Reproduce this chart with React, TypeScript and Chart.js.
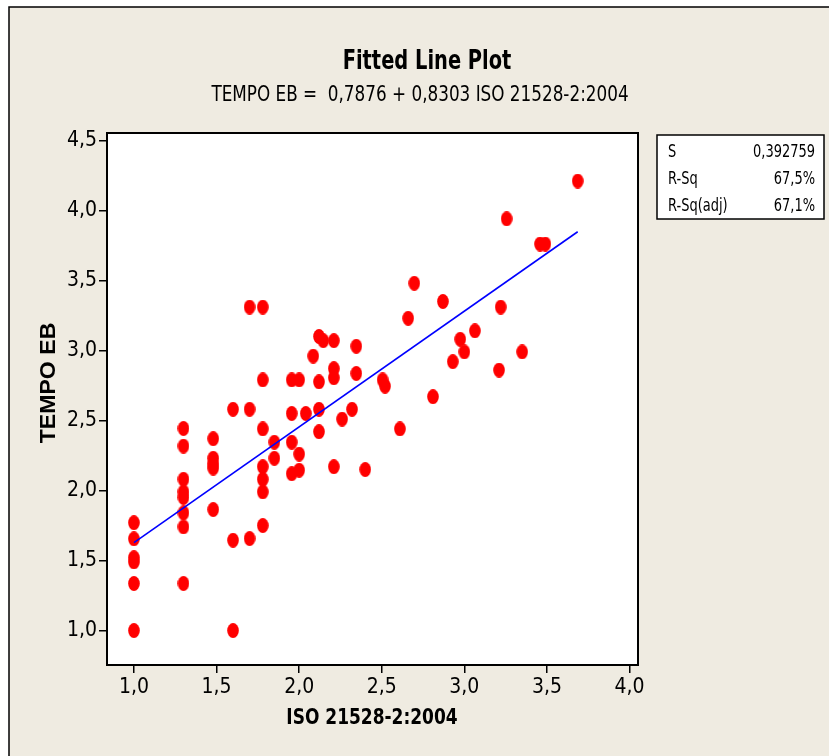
import React, { useEffect, useRef } from 'react';
import { Chart, registerables } from 'chart.js';

Chart.register(...registerables);

// ---- data ----
const xValues = [
  1.0, 1.0, 1.0, 1.0, 1.0, 1.0,
  1.3, 1.3, 1.3, 1.3, 1.3, 1.3, 1.3, 1.3,
  1.48, 1.48, 1.48, 1.48, 1.48,
  1.6, 1.6, 1.6,
  1.7, 1.7, 1.7,
  1.78, 1.78, 1.78, 1.78, 1.78, 1.78, 1.78,
  1.85, 1.85,
  1.955, 1.955, 1.955, 1.955,
  2.0, 2.0, 2.0,
  2.04, 2.085,
  2.12, 2.12, 2.12, 2.12,
  2.146,
  2.21, 2.21, 2.21, 2.21,
  2.26, 2.32, 2.346, 2.346, 2.4, 2.505, 2.52, 2.61, 2.66, 2.697,
  2.81, 2.87, 2.93, 2.975, 3.0, 3.064, 3.21, 3.22, 3.256, 3.35,
  3.458, 3.49, 3.686,
];
const yValues = [
  1.77, 1.655, 1.52, 1.49, 1.336, 1.0,
  2.443, 2.317, 2.08, 1.99, 1.95, 1.84, 1.74, 1.336,
  2.37, 2.23, 2.19, 2.16, 1.864,
  2.58, 1.645, 1.0,
  3.31, 2.58, 1.657,
  3.31, 2.79, 2.44, 2.17, 2.08, 1.99, 1.75,
  2.345, 2.23,
  2.79, 2.55, 2.345, 2.12,
  2.79, 2.26, 2.145,
  2.55, 2.96,
  3.1, 2.776, 2.58, 2.42,
  3.07,
  3.07, 2.87, 2.805, 2.17,
  2.51, 2.58, 3.03, 2.836, 2.15, 2.79, 2.745, 2.44, 3.23, 3.48,
  2.67, 3.35, 2.92, 3.08, 2.99, 3.14, 2.86, 3.31, 3.94, 2.99,
  3.76, 3.76, 4.21,
];
const fitX = [1.0, 3.686];
const fitY = [1.628, 3.848];
const xTicks = [1.0, 1.5, 2.0, 2.5, 3.0, 3.5, 4.0];
const yTicks = [1.0, 1.5, 2.0, 2.5, 3.0, 3.5, 4.0, 4.5];
const chartTitle = 'Fitted Line Plot';
const chartSubtitle = 'TEMPO EB =  0,7876 + 0,8303 ISO 21528-2:2004';
const xLabel = 'ISO 21528-2:2004';
const yLabel = 'TEMPO EB';
const statNames = ['S', 'R-Sq', 'R-Sq(adj)'];
const statValues = ['0,392759', '67,5%', '67,1%'];

const NARROW = '"Liberation Sans Narrow", "DejaVu Sans Condensed", "Liberation Sans", sans-serif';
const BEIGE = '#EFEBE1';

const fmt = (v: number) => Number(v).toFixed(1).replace('.', ',');

function squeezedText(
  ctx: CanvasRenderingContext2D,
  text: string,
  x: number,
  y: number,
  sx: number,
  align: CanvasTextAlign,
  rot = 0,
) {
  ctx.save();
  ctx.translate(x, y);
  if (rot) ctx.rotate(rot);
  ctx.scale(sx, 1);
  ctx.textAlign = align;
  ctx.textBaseline = 'middle';
  ctx.fillText(text, 0, 0);
  ctx.restore();
}

export default function App() {
  const ref = useRef<HTMLCanvasElement | null>(null);

  useEffect(() => {
    const canvas = ref.current;
    if (!canvas) return;

    const dot = document.createElement('canvas');
    dot.width = 12;
    dot.height = 15;
    const dctx = dot.getContext('2d')!;
    dctx.fillStyle = '#FF0000';
    dctx.beginPath();
    dctx.ellipse(6, 7.5, 5.8, 7.4, 0, 0, Math.PI * 2);
    dctx.fill();

    const decor = {
      id: 'decor',
      beforeDraw(chart: any) {
        const { ctx, width, height, chartArea: a } = chart;
        ctx.save();
        ctx.fillStyle = '#FFFFFF';
        ctx.fillRect(0, 0, width, height);
        ctx.fillStyle = BEIGE;
        ctx.fillRect(9, 7, width - 9, height - 7);
        ctx.strokeStyle = '#000';
        ctx.lineWidth = 1.5;
        ctx.beginPath();
        ctx.moveTo(9, height);
        ctx.lineTo(9, 7);
        ctx.lineTo(width, 7);
        ctx.stroke();
        ctx.fillStyle = '#FFFFFF';
        ctx.fillRect(a.left, a.top, a.right - a.left, a.bottom - a.top);
        ctx.restore();
      },
      afterDraw(chart: any) {
        const { ctx, chartArea: a } = chart;
        ctx.save();
        ctx.strokeStyle = '#000';
        ctx.lineWidth = 2;
        ctx.strokeRect(a.left, a.top, a.right - a.left, a.bottom - a.top);

        ctx.fillStyle = '#000';
        ctx.font = `bold 27px ${NARROW}`;
        squeezedText(ctx, chartTitle, 427, 62, 0.8, 'center');
        ctx.font = `22px ${NARROW}`;
        squeezedText(ctx, chartSubtitle, 420, 95, 0.85, 'center');

        // axis titles
        ctx.font = `bold 22px ${NARROW}`;
        squeezedText(ctx, xLabel, 372, 718, 0.86, 'center');
        ctx.font = 'bold 22px "Liberation Sans", Arial, sans-serif';
        squeezedText(ctx, yLabel, 49, 383, 1.05, 'center', -Math.PI / 2);

        // stats box
        const bx = 657, by = 135, bw = 167, bh = 84;
        ctx.fillStyle = '#FFFFFF';
        ctx.fillRect(bx, by, bw, bh);
        ctx.strokeStyle = '#000';
        ctx.lineWidth = 1.5;
        ctx.strokeRect(bx, by, bw, bh);
        ctx.fillStyle = '#000';
        ctx.font = `17px ${NARROW}`;
        statNames.forEach((n, i) => {
          const yy = by + 18 + i * 27;
          squeezedText(ctx, n, bx + 11, yy, 0.85, 'left');
          squeezedText(ctx, statValues[i], bx + bw - 9, yy, 0.85, 'right');
        });
        ctx.restore();
      },
    };

    const chart = new Chart(canvas, {
      type: 'scatter',
      data: {
        datasets: [
          {
            type: 'scatter',
            label: 'Data',
            data: xValues.map((x, i) => ({ x, y: yValues[i] })),
            pointStyle: dot as any,
            pointRadius: 6,
            pointHoverRadius: 6,
            backgroundColor: '#FF0000',
            borderColor: '#FF0000',
            order: 2,
          },
          {
            type: 'line',
            label: 'Fit',
            data: fitX.map((x, i) => ({ x, y: fitY[i] })),
            borderColor: '#0000FF',
            borderWidth: 1.6,
            pointRadius: 0,
            fill: false,
            order: 1,
          } as any,
        ],
      },
      options: {
        animation: false,
        responsive: false,
        devicePixelRatio: 1,
        layout: { padding: { top: 133, right: 191, bottom: 0, left: 0 } },
        plugins: {
          legend: { display: false },
          tooltip: { enabled: false },
          title: { display: false },
        },
        scales: {
          x: {
            type: 'linear',
            min: 0.837,
            max: 4.051,
            afterBuildTicks: (s: any) => {
              s.ticks = xTicks.map((v) => ({ value: v }));
            },
            afterFit: (s: any) => {
              s.height = 91;
            },
            ticks: {
              callback: (v: any) => fmt(v),
              color: '#000',
              font: { family: NARROW, size: 21 },
              padding: 2,
              maxRotation: 0,
              autoSkip: false,
            },
            grid: {
              drawOnChartArea: false,
              drawTicks: true,
              tickLength: 8,
              color: '#000',
              lineWidth: 1.5,
            },
            border: { display: true, color: '#000', width: 2 },
            title: { display: false },
          },
          y: {
            type: 'linear',
            min: 0.754,
            max: 4.553,
            afterBuildTicks: (s: any) => {
              s.ticks = yTicks.map((v) => ({ value: v }));
            },
            afterFit: (s: any) => {
              s.width = 107;
            },
            ticks: {
              callback: (v: any) => fmt(v),
              color: '#000',
              font: { family: NARROW, size: 21 },
              padding: 2,
              autoSkip: false,
            },
            grid: {
              drawOnChartArea: false,
              drawTicks: true,
              tickLength: 8,
              color: '#000',
              lineWidth: 1.5,
            },
            border: { display: true, color: '#000', width: 2 },
            title: { display: false },
          },
        },
      },
      plugins: [decor],
    });

    return () => chart.destroy();
  }, []);

  return (
    <div style={{ position: 'absolute', left: 0, top: 0, width: 829, height: 756 }}>
      <canvas ref={ref} width={829} height={756} style={{ display: 'block', width: 829, height: 756 }} />
    </div>
  );
}
